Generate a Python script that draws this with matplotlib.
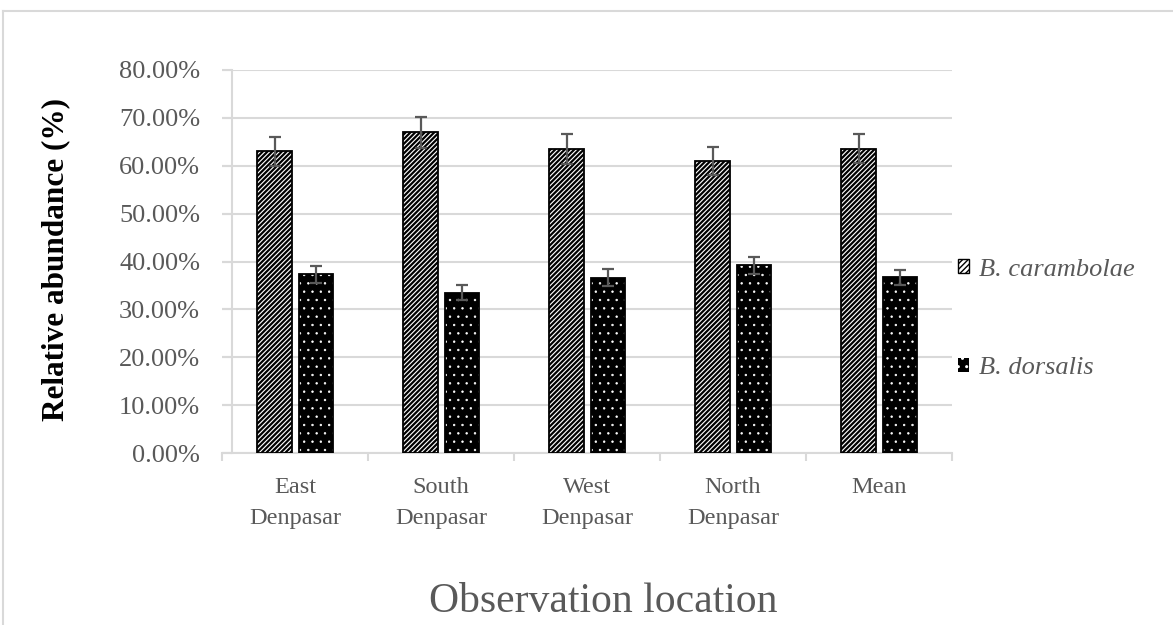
import numpy as np
import matplotlib
matplotlib.use("Agg")
import matplotlib.pyplot as plt
import matplotlib.patches as mpatches
from matplotlib.lines import Line2D

# Données
locations = ["East\nDenpasar", "South\nDenpasar", "West\nDenpasar", "North\nDenpasar", "Mean"]
carambolae = [63.0, 67.0, 63.5, 61.0, 63.6]
carambolae_err = [3.1, 3.2, 3.2, 3.0, 3.1]
dorsalis = [37.3, 33.5, 36.6, 39.2, 36.7]
dorsalis_err = [1.7, 1.5, 1.8, 1.8, 1.6]
yticks = [0, 10, 20, 30, 40, 50, 60, 70, 80]

grey_txt = "#595959"
grid_col = "#d9d9d9"

plt.rcParams['font.family'] = ['Liberation Serif', 'DejaVu Serif']

fig = plt.figure(figsize=(11.73, 6.25), dpi=100)
ax = fig.add_axes([222/1173, 1 - 453/625, 730/1173, 383/625])

x = np.arange(len(locations))
w = 0.235

# B. carambolae : blanc avec hachures noires serrées
with plt.rc_context({'hatch.linewidth': 1.6}):
    ax.bar(x + 0.36, carambolae, w, facecolor="white", edgecolor="black", hatch="/" * 7,
           linewidth=1.3, zorder=3)
    h1 = mpatches.Patch(facecolor="white", edgecolor="black", hatch="/" * 6, linewidth=1)
# B. dorsalis : noir avec petits points blancs
with plt.rc_context({'hatch.linewidth': 0.5}):
    ax.bar(x + 0.644, dorsalis, w, facecolor="black", edgecolor="white", hatch="..",
           linewidth=0, zorder=3)
    h2 = mpatches.Patch(facecolor="black", edgecolor="white", hatch="..", linewidth=0)
ax.bar(x + 0.644, dorsalis, w, fill=False, edgecolor="black", linewidth=1.3, zorder=4)

ax.errorbar(x + 0.36, carambolae, yerr=carambolae_err, fmt="none", ecolor=grey_txt,
            elinewidth=1.6, capsize=4, capthick=1.6, zorder=5)
ax.errorbar(x + 0.644, dorsalis, yerr=dorsalis_err, fmt="none", ecolor=grey_txt,
            elinewidth=1.6, capsize=4, capthick=1.6, zorder=5)

ax.set_xlim(0, len(locations))
ax.set_ylim(0, 80)
ax.set_yticks(yticks)
ax.set_yticklabels([f"{v:.2f}%" for v in yticks])
ax.yaxis.grid(True, color=grid_col, linewidth=1.5, zorder=0)
ax.set_axisbelow(True)
ax.tick_params(axis="y", length=7, width=1.5, color=grid_col, pad=16,
               labelsize=19, labelcolor=grey_txt)

ax.set_xticks(np.arange(len(locations) + 1))
ax.set_xticklabels([])
ax.set_xticks(x + 0.5, minor=True)
ax.set_xticklabels(locations, minor=True, linespacing=1.65)
ax.tick_params(axis="x", which="major", length=6, width=1.5, color=grid_col)
ax.tick_params(axis="x", which="minor", length=0, pad=17, labelsize=17.5, labelcolor=grey_txt)

for s in ["top", "right"]:
    ax.spines[s].set_visible(False)
ax.spines["left"].set_position(("axes", 10/730))
for s in ["left", "bottom"]:
    ax.spines[s].set_color(grid_col)
    ax.spines[s].set_linewidth(1.5)

fig.text(56/1173, 1 - 260/625, "Relative abundance (%)", rotation=90, fontsize=22.5,
         fontweight="bold", ha="center", va="center")

fig.text(603/1173, 1 - 612/625, "Observation location", fontsize=30, color=grey_txt,
         ha="center", va="baseline")

# Légende
leg = fig.legend([h1, h2], ["B. carambolae", "B. dorsalis"], loc="upper left",
                 bbox_to_anchor=(947/1173, 1 - 248/625), frameon=False,
                 prop={'family': 'Liberation Serif', 'style': 'italic', 'size': 19},
                 labelspacing=2.9, handlelength=0.45, handleheight=0.45, handletextpad=0.35,
                 borderaxespad=0)
for t in leg.get_texts():
    t.set_color(grey_txt)

# Bordure extérieure
fig.add_artist(Line2D([3/1173, 1], [1 - 11/625, 1 - 11/625], color=grid_col, linewidth=1.5))
fig.add_artist(Line2D([3/1173, 3/1173], [0, 1 - 11/625], color=grid_col, linewidth=1.5))

fig.savefig("out.png", dpi=100)
